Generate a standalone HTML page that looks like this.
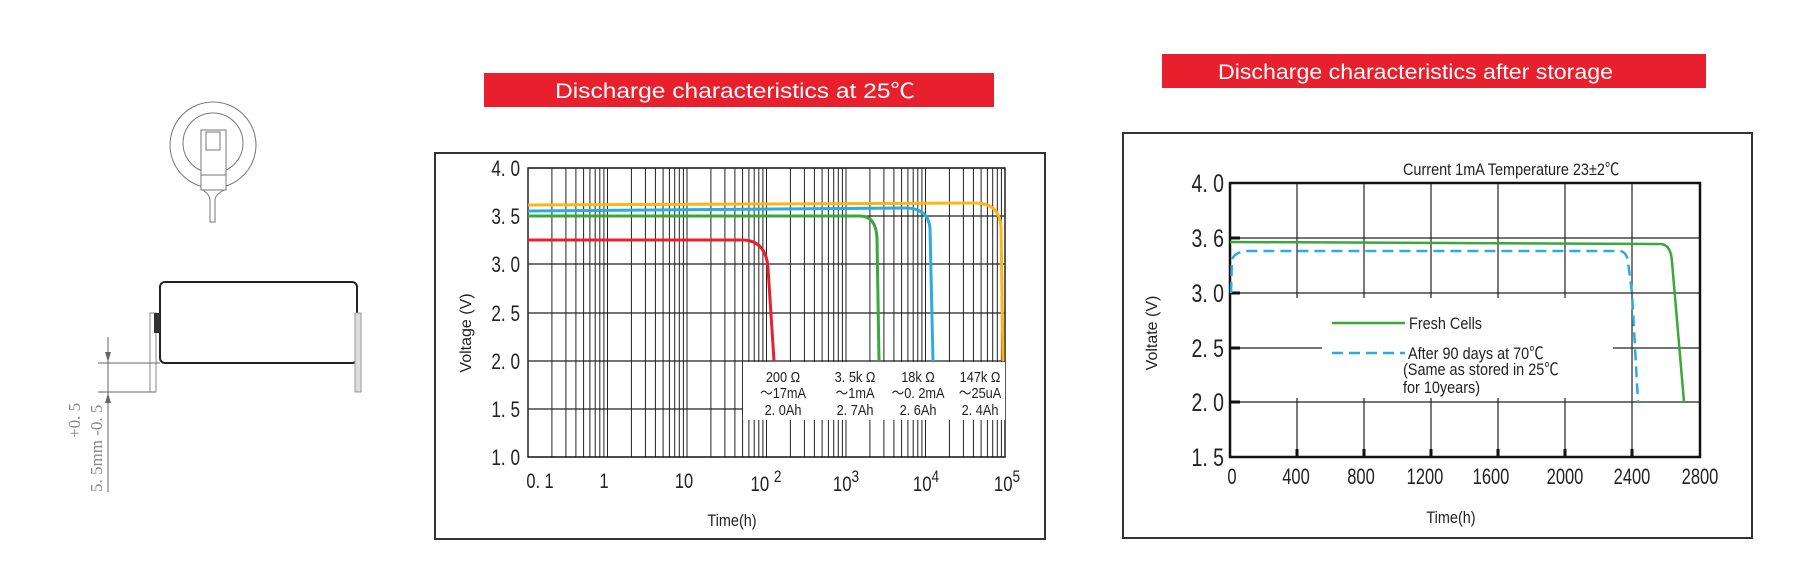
<!DOCTYPE html>
<html><head><meta charset="utf-8"><style>
html,body{margin:0;padding:0;background:#fff;}
svg{display:block;}
text{font-family:"Liberation Sans","Noto Sans CJK SC",sans-serif;}
</style></head><body>
<svg id="s" width="1802" height="567" viewBox="0 0 1802 567" xmlns="http://www.w3.org/2000/svg">
<rect width="1802" height="567" fill="#fff"/>

<!-- left drawing -->
<g fill="none" stroke="#777" stroke-width="1">
<circle cx="213" cy="145" r="43"/>
<circle cx="213" cy="143" r="30"/>
<rect x="201" y="130" width="25" height="60" fill="#fff"/>
<path d="M201,175 L226,175"/>
<path d="M203,190 Q210,195 210,200 L210,222 L215,222 L215,200 Q215,195 224,190"/>
<rect x="206" y="132" width="14" height="18"/>
</g>
<rect x="160" y="282" width="197" height="81" rx="5" fill="none" stroke="#222" stroke-width="2"/>
<rect x="150" y="313" width="6" height="79" fill="none" stroke="#888" stroke-width="1"/>
<rect x="355" y="313" width="6" height="79" fill="#ddd" stroke="#999" stroke-width="1"/>
<rect x="154" y="313" width="6" height="20" fill="#333"/>
<g stroke="#666" stroke-width="1" fill="none">
<path d="M98,363 L160,363 M98,392 L155,392 M108,337 L108,492"/>
</g>
<path d="M105,352 L111,352 L108,362 Z M105,403 L111,403 L108,393 Z" fill="#666"/>
<text transform="translate(102,492) rotate(-90)" font-size="17" fill="#888" style="font-family:'Liberation Serif',serif">5. 5mm -0. 5</text>
<text transform="translate(80,438) rotate(-90)" font-size="17" fill="#888" style="font-family:'Liberation Serif',serif">+0. 5</text>

<!-- banners -->
<rect x="484" y="73" width="510" height="34" fill="#e8202d"/>
<text x="555" y="98" font-size="21" fill="#fff" textLength="360" lengthAdjust="spacingAndGlyphs">Discharge  characteristics  at  25℃</text>
<rect x="1162" y="54" width="544" height="34" fill="#e8202d"/>
<text x="1218" y="79" font-size="21" fill="#fff" textLength="395" lengthAdjust="spacingAndGlyphs">Discharge characteristics after storage</text>

<!-- left chart -->
<rect x="435" y="153" width="610" height="386" fill="none" stroke="#333" stroke-width="2"/>
<g id="lgrid" stroke="#222" stroke-width="1"></g>
<g stroke="#222" stroke-width="1.2">
<path d="M528,168H1005 M528,216H1005 M528,264H1005 M528,313H1005 M528,361H1005 M528,409H1005 M528,457H1005"/>
</g>
<rect x="528" y="168" width="477" height="289" fill="none" stroke="#222" stroke-width="1.5"/>
<rect x="743" y="362" width="262" height="58" fill="#fff"/>
<g fill="none" stroke-width="3" stroke-linecap="butt">
<path d="M528,205 L975,203 Q1000,203 1001,228 L1003,361" stroke="#fbb514"/>
<path d="M528,211 L905,208 Q928,208 930,228 L933,361" stroke="#2aabe4"/>
<path d="M528,216 L860,216 Q876,216 877,238 L879,361" stroke="#3aa83a"/>
<path d="M528,240 L742,240 Q766,240 768,268 L774,361" stroke="#e8202d"/>
</g>
<g font-size="15" fill="#222" text-anchor="middle">
<g transform="translate(783,0) scale(0.85,1)"><text x="0" y="382">200 Ω</text><text x="0" y="398">～17mA</text><text x="0" y="415">2. 0Ah</text></g>
<g transform="translate(855,0) scale(0.85,1)"><text x="0" y="382">3. 5k Ω</text><text x="0" y="398">～1mA</text><text x="0" y="415">2. 7Ah</text></g>
<g transform="translate(918,0) scale(0.85,1)"><text x="0" y="382">18k Ω</text><text x="0" y="398">～0. 2mA</text><text x="0" y="415">2. 6Ah</text></g>
<g transform="translate(980,0) scale(0.85,1)"><text x="0" y="382">147k Ω</text><text x="0" y="398">～25uA</text><text x="0" y="415">2. 4Ah</text></g>
</g>
<g font-size="22" fill="#222" text-anchor="end" transform="translate(520,0) scale(0.78,1)">
<text x="0" y="176">4. 0</text><text x="0" y="224">3. 5</text><text x="0" y="272">3. 0</text>
<text x="0" y="321">2. 5</text><text x="0" y="369">2. 0</text><text x="0" y="417">1. 5</text><text x="0" y="465">1. 0</text>
</g>
<g font-size="21" fill="#222" text-anchor="middle">
<text transform="translate(540,488) scale(0.78,1)">0. 1</text>
<text transform="translate(604,488) scale(0.78,1)">1</text>
<text transform="translate(684,488) scale(0.78,1)">10</text>
<text transform="translate(766,491) scale(0.8,1)">10 <tspan dy="-9" font-size="17">2</tspan></text>
<text transform="translate(846,491) scale(0.8,1)">10<tspan dy="-9" font-size="17">3</tspan></text>
<text transform="translate(926,491) scale(0.8,1)">10<tspan dy="-9" font-size="17">4</tspan></text>
<text transform="translate(1007,491) scale(0.8,1)">10<tspan dy="-9" font-size="17">5</tspan></text>
</g>
<text transform="translate(732,526) scale(0.85,1)" font-size="17" fill="#222" text-anchor="middle">Time(h)</text>
<text transform="translate(471,333) rotate(-90)" font-size="16" fill="#222" text-anchor="middle">Voltage (V)</text>

<!-- right chart -->
<rect x="1123" y="133" width="629" height="405" fill="none" stroke="#333" stroke-width="2"/>
<g stroke="#222" stroke-width="1.2">
<path d="M1230,238H1700 M1230,293H1700 M1230,402H1700 M1230,348H1322 M1613,348H1700"/>
<path d="M1297,183V298 M1297,398V457 M1364,183V298 M1364,398V457 M1431,183V298 M1431,398V457 M1498,183V298 M1498,398V457 M1565,183V298 M1565,398V457 M1632,183V457"/>
</g>
<g stroke="#111" stroke-width="3">
<path d="M1230,238h10 M1230,293h10 M1230,348h10 M1230,402h10 M1297,457v-8 M1364,457v-8 M1431,457v-8 M1498,457v-8 M1565,457v-8 M1632,457v-8"/>
</g>
<rect x="1230" y="183" width="470" height="274" fill="none" stroke="#111" stroke-width="2.5"/>
<path d="M1230,242 L1660,244 Q1671,244 1672,262 L1684,402" fill="none" stroke="#3aa83a" stroke-width="2.5"/>
<path d="M1231,293 L1232,260 Q1234,252 1248,251 L1620,251 Q1627,252 1628,262 L1632,293 L1638,402" fill="none" stroke="#2aabe4" stroke-width="2.5" stroke-dasharray="11,6"/>
<path d="M1332,323 H1405" stroke="#3aa83a" stroke-width="2.5"/>
<path d="M1332,353 H1405" stroke="#2aabe4" stroke-width="2.5" stroke-dasharray="11,6"/>
<g font-size="17" fill="#222">
<text transform="translate(1409,329) scale(0.85,1)">Fresh  Cells</text>
<text transform="translate(1408,359) scale(0.85,1)">After 90 days at 70℃</text>
<text transform="translate(1403,375) scale(0.85,1)">(Same as stored in 25℃</text>
<text transform="translate(1403,393) scale(0.85,1)">for 10years)</text>
<text transform="translate(1403,175) scale(0.85,1)">Current 1mA  Temperature 23±2℃</text>
</g>
<g font-size="25" fill="#222" text-anchor="end" transform="translate(1224,0) scale(0.78,1)">
<text x="0" y="192">4. 0</text><text x="0" y="247">3. 6</text><text x="0" y="302">3. 0</text>
<text x="0" y="357">2. 5</text><text x="0" y="411">2. 0</text><text x="0" y="466">1. 5</text>
</g>
<g font-size="22" fill="#222" text-anchor="middle">
<text transform="translate(1232,484) scale(0.75,1)">0</text>
<text transform="translate(1296,484) scale(0.75,1)">400</text>
<text transform="translate(1361,484) scale(0.75,1)">800</text>
<text transform="translate(1425,484) scale(0.75,1)">1200</text>
<text transform="translate(1491,484) scale(0.75,1)">1600</text>
<text transform="translate(1565,484) scale(0.75,1)">2000</text>
<text transform="translate(1632,484) scale(0.75,1)">2400</text>
<text transform="translate(1700,484) scale(0.75,1)">2800</text>
</g>
<text transform="translate(1451,523) scale(0.85,1)" font-size="17" fill="#222" text-anchor="middle">Time(h)</text>
<text transform="translate(1157,333) rotate(-90)" font-size="16" fill="#222" text-anchor="middle">Voltate (V)</text>
</svg>
<script>
(function(){
var g=document.getElementById('lgrid'),d='';
for(var dec=0;dec<6;dec++){for(var k=1;k<=9;k++){
if(dec===0&&k===1)continue;
var x=528+(dec+Math.log10(k))*79.5;d+='M'+x.toFixed(1)+',168V457 ';}}
d+='M1005,168V457';
var p=document.createElementNS('http://www.w3.org/2000/svg','path');
p.setAttribute('d',d);g.appendChild(p);
})();
</script>
</body></html>
